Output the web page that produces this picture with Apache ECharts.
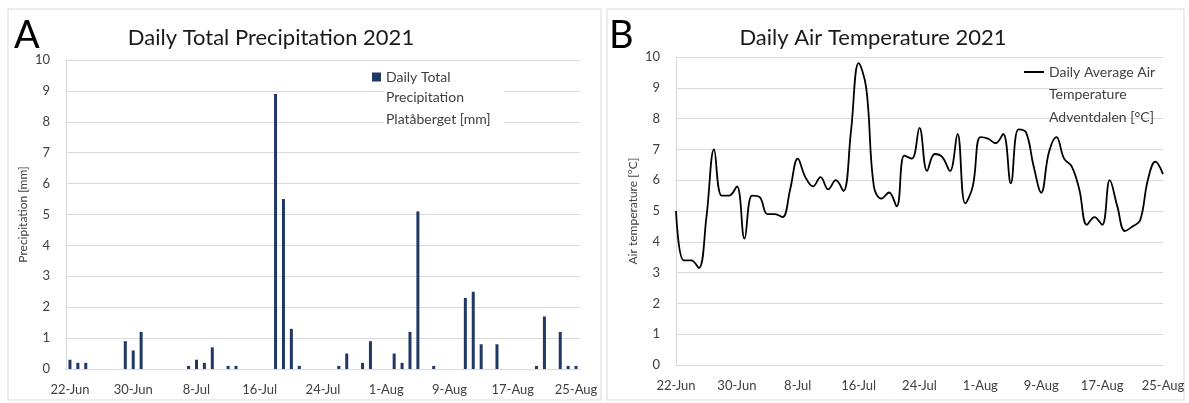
<!DOCTYPE html>
<html>
<head>
<meta charset="utf-8">
<script src="https://cdn.jsdelivr.net/npm/echarts@6/dist/echarts.min.js"></script>
<style>
  html, body { margin: 0; padding: 0; background: #fff; }
  #main { width: 1189px; height: 403px; }
</style>
</head>
<body>
<div id="main"></div>
<script>
// dates 22-Jun .. 25-Aug 2021
const days = [
  '22-Jun','23-Jun','24-Jun','25-Jun','26-Jun','27-Jun','28-Jun','29-Jun','30-Jun',
  '1-Jul','2-Jul','3-Jul','4-Jul','5-Jul','6-Jul','7-Jul','8-Jul','9-Jul','10-Jul',
  '11-Jul','12-Jul','13-Jul','14-Jul','15-Jul','16-Jul','17-Jul','18-Jul','19-Jul',
  '20-Jul','21-Jul','22-Jul','23-Jul','24-Jul','25-Jul','26-Jul','27-Jul','28-Jul',
  '29-Jul','30-Jul','31-Jul','1-Aug','2-Aug','3-Aug','4-Aug','5-Aug','6-Aug','7-Aug',
  '8-Aug','9-Aug','10-Aug','11-Aug','12-Aug','13-Aug','14-Aug','15-Aug','16-Aug',
  '17-Aug','18-Aug','19-Aug','20-Aug','21-Aug','22-Aug','23-Aug','24-Aug','25-Aug'
]

// daily total precipitation, Platåberget [mm]
const precip = [
  0.3, 0.2, 0.2, 0, 0, 0, 0, 0.9, 0.6, 1.2,
  0, 0, 0, 0, 0, 0.1, 0.3, 0.2, 0.7, 0,
  0.1, 0.1, 0, 0, 0, 0, 8.9, 5.5, 1.3, 0.1,
  0, 0, 0, 0, 0.1, 0.5, 0, 0.2, 0.9, 0,
  0, 0.5, 0.2, 1.2, 5.1, 0, 0.1, 0, 0, 0,
  2.3, 2.5, 0.8, 0, 0.8, 0, 0, 0, 0, 0.1,
  1.7, 0, 1.2, 0.1, 0.1
]

// daily average air temperature, Adventdalen [°C]
const airTemp = [
  5.0, 3.4, 3.4, 3.15, 4.8, 7.0, 5.5, 5.5, 5.8, 4.1,
  5.5, 5.45, 4.9, 4.9, 4.8, 5.7, 6.7, 6.1, 5.8, 6.1,
  5.7, 6.0, 5.65, 7.6, 9.8, 9.0, 5.8, 5.4, 5.6, 5.15,
  6.8, 6.7, 7.7, 6.3, 6.85, 6.75, 6.3, 7.5, 5.25, 5.8,
  7.4, 7.35, 7.2, 7.5, 5.9, 7.65, 7.55, 6.45, 5.6, 6.9,
  7.4, 6.7, 6.45, 5.7, 4.55, 4.8, 4.55, 6.0, 5.15, 4.35,
  4.5, 4.7, 6.0, 6.6, 6.2
]

const yTicks = [0, 10, 1] // min, max, step

const precipName = ['Daily Total', 'Precipitation', 'Platåberget [mm]']
const tempName = ['Daily Average Air', 'Temperature', 'Adventdalen [°C]']

const font = 'Lato, "Noto Sans", sans-serif'
const txt = '#404040'
const gridCol = '#d9d9d9'

let myChart = echarts.init(document.getElementById('main'))

function xAx(idx, gap) {
  return {
    type: 'category', gridIndex: idx, data: days, boundaryGap: gap,
    axisLine: { lineStyle: { color: gridCol } },
    axisTick: { show: false },
    axisLabel: { interval: 7, color: txt, fontFamily: font, fontSize: 13, margin: 14 }
  }
}
function yAx(idx, name) {
  return {
    type: 'value', gridIndex: idx, min: yTicks[0], max: yTicks[1], interval: yTicks[2],
    name: name, nameLocation: 'middle', nameGap: 37,
    nameTextStyle: { color: txt, fontFamily: font, fontSize: 12 },
    axisLine: { show: true, lineStyle: { color: gridCol } },
    axisTick: { show: false },
    axisLabel: { color: txt, fontFamily: font, fontSize: 13, margin: 16 },
    splitLine: { lineStyle: { color: gridCol } }
  }
}

// extra legend lines
function legLine(x, y, s) {
  return { type: 'text', left: x, top: y, z: 10,
    style: { text: s, font: '14px ' + font, fill: txt } }
}

option = {
  animation: false,
  textStyle: { fontFamily: font },
  graphic: [
    { type: 'rect', shape: { x: 8, y: 9, width: 593, height: 391 },
      style: { fill: 'none', stroke: '#d9d9d9', lineWidth: 1 } },
    { type: 'rect', shape: { x: 607, y: 9, width: 577, height: 391 },
      style: { fill: 'none', stroke: '#d9d9d9', lineWidth: 1 } },
    { type: 'text', left: 14, top: 17,
      style: { text: 'A', font: '38px ' + font, fill: '#000' } },
    { type: 'text', left: 609, top: 17,
      style: { text: 'B', font: '38px ' + font, fill: '#000' } },
    { type: 'rect', z: 5, shape: { x: 384, y: 88, width: 120, height: 42 },
      style: { fill: '#fff' } },
    legLine(386, 90, precipName[1]),
    legLine(386, 112, precipName[2]),
    legLine(1049, 87, tempName[1]),
    legLine(1049, 110, tempName[2])
  ],
  title: [
    { text: 'Daily Total Precipitation 2021', left: 266, top: 22, textAlign: 'center',
      textStyle: { fontFamily: font, fontSize: 22, fontWeight: 'normal', color: '#1a1a1a' } },
    { text: 'Daily Air Temperature 2021', left: 868, top: 22, textAlign: 'center',
      textStyle: { fontFamily: font, fontSize: 22, fontWeight: 'normal', color: '#1a1a1a' } }
  ],
  legend: [
    { data: [precipName.join(' ')], formatter: () => precipName[0], left: 372, top: 66,
      icon: 'rect', itemWidth: 9, itemHeight: 9, padding: 0, backgroundColor: '#fff',
      textStyle: { color: txt, fontFamily: font, fontSize: 14, lineHeight: 22 } },
    { data: [tempName.join(' ')], formatter: () => tempName[0], left: 1024, top: 61,
      icon: 'rect', itemWidth: 20, itemHeight: 2, padding: 0,
      textStyle: { color: txt, fontFamily: font, fontSize: 14, lineHeight: 22 } }
  ],
  grid: [
    { left: 66, right: 609, top: 60, bottom: 34 },
    { left: 676, right: 26, top: 57, bottom: 38 }
  ],
  xAxis: [xAx(0, true), xAx(1, false)],
  yAxis: [yAx(0, 'Precipitation [mm]'), yAx(1, 'Air temperature [°C]')],
  series: [
    {
      name: precipName.join(' '), type: 'bar',
      xAxisIndex: 0, yAxisIndex: 0, data: precip, barWidth: 3,
      itemStyle: { color: '#1f3864' }
    },
    {
      name: tempName.join(' '), type: 'line', symbol: 'none',
      xAxisIndex: 1, yAxisIndex: 1, data: airTemp, smooth: 0.4,
      lineStyle: { color: '#000', width: 1.8 }, itemStyle: { color: '#000' }
    }
  ]
}
myChart.setOption(option)
</script>
</body>
</html>
